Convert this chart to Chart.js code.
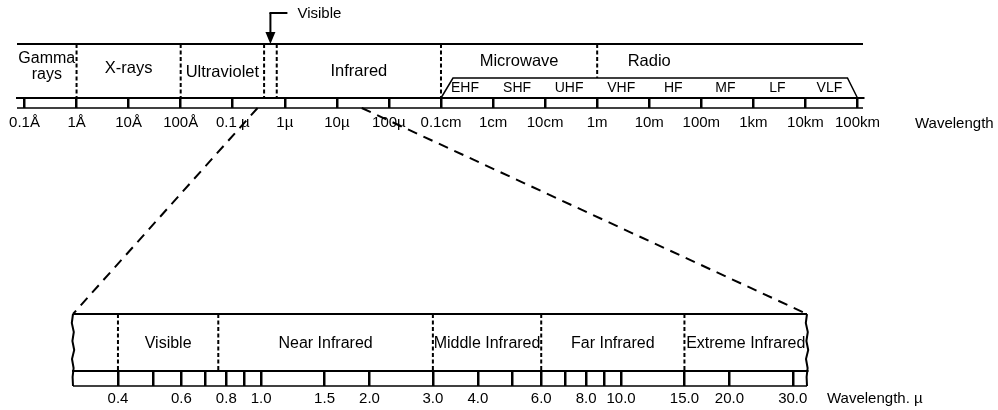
<!DOCTYPE html>
<html>
<head>
<meta charset="utf-8">
<script src="https://cdn.jsdelivr.net/npm/chart.js@4.4.1/dist/chart.umd.min.js"></script>
<style>
    body { margin: 0; background: #fff; overflow: hidden; }
    #wrap { position: relative; width: 998px; height: 410px; }
    #wrap canvas { position: absolute; left: 0; top: 0; }
</style>
</head>
<body>
<div id="wrap">
    <canvas id="SpectrumChart" width="998" height="410"></canvas>
    <canvas id="InfraredChart" width="998" height="410"></canvas>
</div>
<script>
// full spectrum, wavelengths in metres
var spectrumTicks = [1e-11, 1e-10, 1e-9, 1e-8, 1e-7, 1e-6, 1e-5, 1e-4, 1e-3, 1e-2, 1e-1, 1, 10, 100, 1e3, 1e4, 1e5];
var spectrumTickLabels = ['0.1Å', '1Å', '10Å', '100Å', '0.1 µ', '1µ', '10µ', '100µ', '0.1cm', '1cm', '10cm', '1m', '10m', '100m', '1km', '10km', '100km'];
var spectrumDividers = [1e-10, 1e-8, 0.4e-6, 0.7e-6, 1e-3];
var spectrumBands = [['Gamma', 'rays'], 'X-rays', 'Ultraviolet', 'Infrared', 'Microwave', 'Radio'];
var spectrumBandFrom = [null, 1e-10, 1e-8, 0.7e-6, 1e-3, 1];
var spectrumBandTo = [1e-10, 1e-8, 0.4e-6, 1e-3, 1, 100];
var visibleRange = [0.4e-6, 0.7e-6];
var radioBands = ['EHF', 'SHF', 'UHF', 'VHF', 'HF', 'MF', 'LF', 'VLF'];
var radioEdges = [1e-3, 1e-2, 1e-1, 1, 10, 100, 1e3, 1e4, 1e5];
var zoomRange = [0.3e-6, 30e-6];

// infrared detail, wavelengths in microns
var irTicks = [0.4, 0.5, 0.6, 0.7, 0.8, 0.9, 1.0, 1.5, 2.0, 3.0, 4.0, 5.0, 6.0, 7.0, 8.0, 9.0, 10, 15, 20, 30];
var irTickLabels = ['0.4', '', '0.6', '', '0.8', '', '1.0', '1.5', '2.0', '3.0', '4.0', '', '6.0', '', '8.0', '', '10.0', '15.0', '20.0', '30.0'];
var irDividers = [0.4, 0.76, 3, 6, 15];
var irBands = ['Visible', 'Near Infrared', 'Middle Infrared', 'Far Infrared', 'Extreme Infrared'];
var irBandFrom = [0.4, 0.76, 3, 6, 15];
var irBandTo = [0.76, 3, 6, 15, null];

var FONT = "'Liberation Sans', Arial, sans-serif";
var SpectrumChart, InfraredChart;

Chart.defaults.font.family = FONT;
Chart.defaults.color = '#000';

function DrawLine(ctx, x1, y1, x2, y2, width, dash) {
    ctx.save();
    ctx.strokeStyle = '#000';
    ctx.lineWidth = width;
    ctx.setLineDash(dash || []);
    ctx.beginPath();
    ctx.moveTo(x1, y1);
    ctx.lineTo(x2, y2);
    ctx.stroke();
    ctx.restore();
}

function DrawText(ctx, str, x, y, size, align) {
    ctx.save();
    ctx.fillStyle = '#000';
    ctx.font = size + 'px ' + FONT;
    ctx.textAlign = align || 'center';
    ctx.textBaseline = 'middle';
    ctx.fillText(str, x, y);
    ctx.restore();
}

function DrawWavyEdge(ctx, x, y1, y2) {
    var wobble = [0, -1.2, 0.8, -0.6, 1.2, -1, 0.6, -0.4, 0];
    ctx.save();
    ctx.strokeStyle = '#000';
    ctx.lineWidth = 2;
    ctx.beginPath();
    for (var i = 0; i < wobble.length; i++) {
        var y = y1 + (y2 - y1) * i / (wobble.length - 1);
        if (i === 0) ctx.moveTo(x + wobble[i], y); else ctx.lineTo(x + wobble[i], y);
    }
    ctx.stroke();
    ctx.restore();
}

function AxisOptions(min, max, ticks, labels, tickLength, padding, height) {
    return {
        type: 'logarithmic',
        position: 'bottom',
        min: min,
        max: max,
        afterBuildTicks: function (scale) {
            scale.ticks = ticks.map(function (v) { return { value: v }; });
        },
        afterFit: function (scale) {
            scale.height = height;
            scale.paddingLeft = 0;
            scale.paddingRight = 0;
        },
        grid: { drawOnChartArea: false, drawTicks: true, tickLength: tickLength, color: '#000', lineWidth: 2.5 },
        border: { display: true, color: '#000', width: 2 },
        ticks: {
            autoSkip: false,
            maxRotation: 0,
            minRotation: 0,
            padding: padding,
            font: { size: 15 },
            color: '#000',
            callback: function (value, index) { return labels[index]; }
        }
    };
}

var spectrumPlugin = {
    id: 'spectrumDecor',
    afterDraw: function (chart) {
        var ctx = chart.ctx, a = chart.chartArea, x = chart.scales.x;
        var rulerBottom = a.bottom + 10;
        var bandTop = a.top + 34;

        DrawLine(ctx, a.left, a.top, a.right, a.top, 2);
        DrawLine(ctx, a.left, rulerBottom, a.right, rulerBottom, 1.5);

        spectrumDividers.forEach(function (v) {
            var px = x.getPixelForValue(v);
            DrawLine(ctx, px, a.top, px, a.bottom, 2, [4, 2.5]);
        });
        // microwave / radio split sits above the sub-band box
        var split = x.getPixelForValue(spectrumBandFrom[5]);
        DrawLine(ctx, split, a.top, split, bandTop, 2, [4, 2.5]);

        // radio sub-band box
        var l = x.getPixelForValue(radioEdges[0]);
        var r = x.getPixelForValue(radioEdges[radioEdges.length - 1]);
        ctx.save();
        ctx.strokeStyle = '#000';
        ctx.lineWidth = 1.5;
        ctx.beginPath();
        ctx.moveTo(l, a.bottom);
        ctx.lineTo(l + 12, bandTop);
        ctx.lineTo(r - 10, bandTop);
        ctx.lineTo(r, a.bottom);
        ctx.stroke();
        ctx.restore();
        for (var i = 0; i < radioBands.length; i++) {
            var c = (x.getPixelForValue(radioEdges[i]) + x.getPixelForValue(radioEdges[i + 1])) / 2;
            DrawText(ctx, radioBands[i], c - 2, bandTop + 10, 14);
        }

        // main band labels
        var bandY = [59, 68, 72, 71, 61, 61];
        spectrumBands.forEach(function (name, i) {
            var from = spectrumBandFrom[i] === null ? a.left : x.getPixelForValue(spectrumBandFrom[i]);
            var to = x.getPixelForValue(spectrumBandTo[i]);
            var cx = (from + to) / 2;
            if (Array.isArray(name)) {
                DrawText(ctx, name[0], cx, bandY[i], 16);
                DrawText(ctx, name[1], cx, bandY[i] + 16, 16);
            } else {
                DrawText(ctx, name, cx, bandY[i], 16.5);
            }
        });

        // visible pointer
        var vx = x.getPixelForValue(Math.sqrt(visibleRange[0] * visibleRange[1]));
        DrawLine(ctx, vx, 13, vx, 33, 2);
        DrawLine(ctx, vx - 1, 13, vx + 17, 13, 2);
        ctx.save();
        ctx.fillStyle = '#000';
        ctx.beginPath();
        ctx.moveTo(vx - 5, 32);
        ctx.lineTo(vx + 5, 32);
        ctx.lineTo(vx, a.top);
        ctx.closePath();
        ctx.fill();
        ctx.restore();
        DrawText(ctx, 'Visible', vx + 27, 14, 15, 'left');

        DrawText(ctx, 'Wavelength', 915, a.bottom + 26, 15, 'left');
    }
};

var infraredPlugin = {
    id: 'infraredDecor',
    afterDraw: function (chart) {
        var ctx = chart.ctx, a = chart.chartArea, x = chart.scales.x;
        var rulerBottom = a.bottom + 15;

        DrawLine(ctx, a.left, a.top, a.right, a.top, 2);
        DrawLine(ctx, a.left, rulerBottom, a.right, rulerBottom, 1.5);
        DrawWavyEdge(ctx, a.left, a.top, rulerBottom);
        DrawWavyEdge(ctx, a.right, a.top, rulerBottom);

        irDividers.forEach(function (v) {
            var px = x.getPixelForValue(v);
            DrawLine(ctx, px, a.top, px, a.bottom, 2, [4, 2.5]);
        });

        irBands.forEach(function (name, i) {
            var from = x.getPixelForValue(irBandFrom[i]);
            var to = irBandTo[i] === null ? a.right : x.getPixelForValue(irBandTo[i]);
            DrawText(ctx, name, (from + to) / 2, a.top + 30, 16);
        });

        DrawText(ctx, 'Wavelength. µ', a.right + 20, rulerBottom + 13, 15, 'left');

        // dashed connectors from the zoomed part of the spectrum
        var top = SpectrumChart.scales.x;
        var topY = SpectrumChart.chartArea.bottom + 10;
        DrawLine(ctx, top.getPixelForValue(zoomRange[0]), topY, a.left, a.top, 2, [10, 7]);
        DrawLine(ctx, top.getPixelForValue(zoomRange[1]), topY, a.right, a.top, 2, [10, 7]);
    }
};

function InitializeSpectrum() {
    SpectrumChart = new Chart(document.getElementById('SpectrumChart'), {
        type: 'scatter',
        data: { datasets: [] },
        plugins: [spectrumPlugin],
        options: {
            responsive: false,
            animation: false,
            layout: { padding: { left: 17, right: 135, top: 44, bottom: 272 } },
            plugins: { legend: { display: false }, tooltip: { enabled: false } },
            scales: {
                x: AxisOptions(Math.pow(10, -11.144), Math.pow(10, 5.106), spectrumTicks, spectrumTickLabels, 10, 6, 40),
                y: { display: false }
            }
        }
    });
}

function InitializeInfrared() {
    InfraredChart = new Chart(document.getElementById('InfraredChart'), {
        type: 'scatter',
        data: { datasets: [] },
        plugins: [infraredPlugin],
        options: {
            responsive: false,
            animation: false,
            layout: { padding: { left: 73, right: 191, top: 314, bottom: 0 } },
            plugins: { legend: { display: false }, tooltip: { enabled: false } },
            scales: {
                x: AxisOptions(0.308, 32.86, irTicks, irTickLabels, 15, 4, 39),
                y: { display: false }
            }
        }
    });
}

InitializeSpectrum();
InitializeInfrared();
</script>
</body>
</html>
